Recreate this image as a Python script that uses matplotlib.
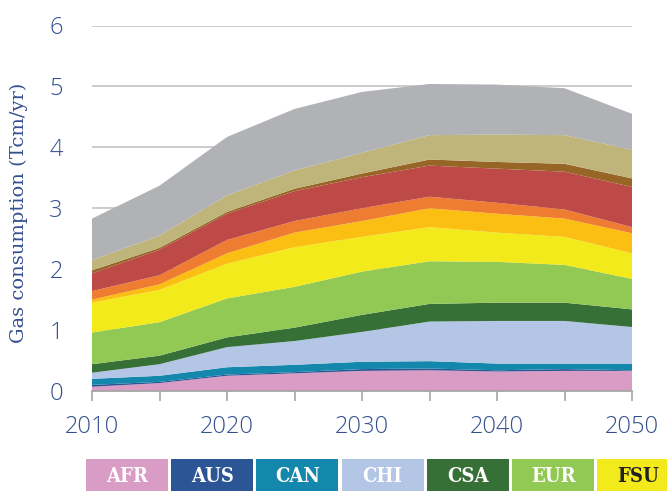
import matplotlib.pyplot as plt
from matplotlib.patches import Rectangle

# gas consumption by region, Tcm/yr
years = [2010, 2015, 2020, 2025, 2030, 2035, 2040, 2045, 2050]

afr = [0.07, 0.13, 0.25, 0.29, 0.33, 0.34, 0.32, 0.33, 0.33]
aus = [0.03, 0.02, 0.02, 0.02, 0.03, 0.03, 0.02, 0.03, 0.01]
can = [0.10, 0.10, 0.12, 0.12, 0.12, 0.12, 0.11, 0.09, 0.11]
chi = [0.10, 0.19, 0.33, 0.39, 0.49, 0.65, 0.70, 0.70, 0.60]
csa = [0.14, 0.14, 0.16, 0.22, 0.28, 0.29, 0.30, 0.30, 0.29]
eur = [0.52, 0.55, 0.64, 0.67, 0.71, 0.70, 0.67, 0.62, 0.50]
fsu = [0.49, 0.53, 0.57, 0.65, 0.57, 0.56, 0.48, 0.46, 0.42]
ind = [0.05, 0.09, 0.17, 0.24, 0.26, 0.31, 0.31, 0.30, 0.33]
jpn = [0.14, 0.15, 0.22, 0.19, 0.21, 0.19, 0.18, 0.15, 0.10]
mea = [0.29, 0.42, 0.43, 0.49, 0.51, 0.51, 0.56, 0.62, 0.66]
oda = [0.05, 0.03, 0.03, 0.04, 0.06, 0.10, 0.11, 0.13, 0.14]
sko = [0.17, 0.20, 0.27, 0.30, 0.34, 0.40, 0.45, 0.47, 0.47]
usa = [0.68, 0.82, 0.96, 1.01, 1.00, 0.84, 0.82, 0.77, 0.59]

regions = ['AFR', 'AUS', 'CAN', 'CHI', 'CSA', 'EUR', 'FSU',
           'IND', 'JPN', 'MEA', 'ODA', 'SKO', 'USA']
series = [afr, aus, can, chi, csa, eur, fsu, ind, jpn, mea, oda, sko, usa]
colors = ['#d99cc5', '#2b5594', '#1487ac', '#b4c6e6', '#367037', '#92c955',
          '#f2ea1a', '#fbbf14', '#ee7d31', '#be4a48', '#976526', '#bfb57a',
          '#b1b2b6']

blue = '#34508f'

W, H = 667, 491
fig = plt.figure(figsize=(W / 100, H / 100), dpi=100)
ax = fig.add_axes([92 / W, 100 / H, 540 / W, 365.5 / H])

ax.stackplot(years, *series, colors=colors, linewidth=0, zorder=2)

ax.set_xlim(2010, 2050)
ax.set_ylim(0, 6)
ax.set_yticks(range(7))
ax.set_xticks([2010, 2020, 2030, 2040, 2050])
ax.set_xticks([2015, 2025, 2035, 2045], minor=True)
ax.yaxis.grid(True, color='#c8c8c8', linewidth=1.3, zorder=0)
ax.set_axisbelow(True)

for s in ['top', 'right', 'left']:
    ax.spines[s].set_visible(False)
ax.spines['bottom'].set_color('#a6a6a6')
ax.spines['bottom'].set_linewidth(1.3)
ax.spines['bottom'].set_zorder(3)

ax.tick_params(axis='y', length=0, pad=21, labelsize=17, labelcolor=blue)
ax.tick_params(axis='x', which='both', length=7, width=1.2, color='#a6a6a6',
               pad=10, labelsize=17, labelcolor=blue)
ax.tick_params(axis='x', which='minor', labelbottom=False)
for lab in ax.get_xticklabels() + ax.get_yticklabels():
    lab.set_fontfamily('Open Sans')
    lab.set_fontweight('light')

fig.text(19 / W, 1 - 213 / H, 'Gas consumption (Tcm/yr)', rotation=90,
         ha='center', va='center', color=blue, fontsize=14,
         family='DejaVu Serif', fontweight='light')

# legend strip along the bottom edge
for i in range(7):
    x0 = 86 + i * 85.2
    fig.patches.append(Rectangle((x0 / W, -0.02), 82 / W, (H - 459) / H + 0.02,
                                 transform=fig.transFigure, facecolor=colors[i],
                                 edgecolor='none'))
    fig.text((x0 + 41) / W, 1 - 476 / H, regions[i], ha='center', va='center',
             color='#222222' if regions[i] == 'FSU' else 'white',
             fontsize=14.5, family='DejaVu Serif', fontstretch='condensed',
             fontweight='semibold')

fig.savefig('out.png', dpi=100)
